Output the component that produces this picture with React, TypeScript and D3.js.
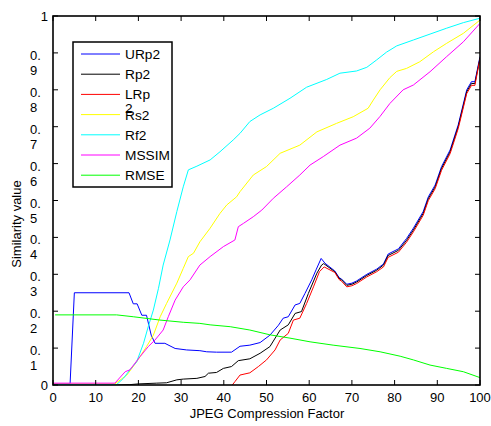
import React from "react";
import * as d3 from "d3";

const xTicks = [0, 10, 20, 30, 40, 50, 60, 70, 80, 90, 100];
const xTickLabels = ["0", "10", "20", "30", "40", "50", "60", "70", "80", "90", "100"];
const yTicks = [0, 0.1, 0.2, 0.3, 0.4, 0.5, 0.6, 0.7, 0.8, 0.9, 1];
const yTickLabels = ["0", "0.1", "0.2", "0.3", "0.4", "0.5", "0.6", "0.7", "0.8", "0.9", "1"];

const seriesNames = ["URp2", "Rp2", "LRp2", "Rs2", "Rf2", "MSSIM", "RMSE"];
const legendLines = [["URp2"], ["Rp2"], ["LRp", "2"], ["Rs2"], ["Rf2"], ["MSSIM"], ["RMSE"]];
const seriesColors = ["#0000ff", "#000000", "#ff0000", "#ffff00", "#00ffff", "#ff00ff", "#00ff00"];

const urp2: [number, number][] = [
  [0, 0.003], [4, 0.003], [5, 0.25], [17.8, 0.25], [18.8, 0.22], [19.7, 0.22], [20.8, 0.189], [21.9, 0.189],
  [23, 0.135], [23.9, 0.113], [26.2, 0.113], [28.6, 0.099], [31.3, 0.095], [34.4, 0.093], [36, 0.09],
  [38.3, 0.089], [41.8, 0.089], [43.8, 0.105], [46.1, 0.108], [48.5, 0.115], [50.8, 0.135], [52.8, 0.162],
  [53.9, 0.181], [55.1, 0.185], [56.7, 0.217], [57.8, 0.221], [59, 0.248], [60.6, 0.285], [61.6, 0.312],
  [62.8, 0.343], [63.7, 0.33], [66, 0.309], [67, 0.291], [67.6, 0.287], [68.8, 0.273], [70, 0.276],
  [71.1, 0.282], [73.5, 0.3], [75.8, 0.314], [77.4, 0.328], [78.5, 0.355], [80.9, 0.369], [82.8, 0.397],
  [84.4, 0.425], [86.7, 0.47], [87.9, 0.51], [89.5, 0.542], [91, 0.592], [93, 0.637], [94.9, 0.705],
  [96.9, 0.8], [98, 0.822], [98.8, 0.822], [100, 0.89],
];

const rp2: [number, number][] = [
  [0, 0], [15, 0], [18, 0.001], [20, 0.003], [24.3, 0.005], [26.6, 0.006], [29, 0.014], [30.5, 0.016],
  [33.7, 0.018], [35.6, 0.023], [36.4, 0.032], [38.3, 0.034], [39.9, 0.045], [41.8, 0.05], [43.4, 0.066],
  [46.1, 0.071], [48.5, 0.086], [50.8, 0.104], [53.2, 0.149], [55.1, 0.163], [56.7, 0.194], [58.2, 0.199],
  [59.8, 0.248], [61.8, 0.303], [62.9, 0.325], [63.4, 0.329], [66, 0.307], [67, 0.289], [67.6, 0.285],
  [68.8, 0.27], [70, 0.273], [71.1, 0.279], [73.5, 0.297], [75.8, 0.311], [77.4, 0.325], [78.5, 0.351],
  [80.9, 0.365], [82.8, 0.392], [84.4, 0.42], [86.7, 0.465], [87.9, 0.505], [89.5, 0.537], [91, 0.587],
  [93, 0.632], [94.9, 0.7], [96.9, 0.795], [98, 0.817], [98.8, 0.817], [100, 0.887],
];

const lrp2: [number, number][] = [
  [41.3, -0.01], [42.6, 0.009], [43.8, 0.027], [46.1, 0.033], [48.1, 0.05], [50, 0.068], [52, 0.095],
  [53.2, 0.122], [55.1, 0.14], [56.3, 0.176], [57.8, 0.181], [59.4, 0.221], [61, 0.266], [62.4, 0.307],
  [63.5, 0.32], [66, 0.305], [67, 0.286], [67.6, 0.281], [68.8, 0.266], [70, 0.269], [71.1, 0.275],
  [73.5, 0.293], [75.8, 0.307], [77.4, 0.32], [78.5, 0.346], [80.9, 0.36], [82.8, 0.387], [84.4, 0.415],
  [86.7, 0.46], [87.9, 0.5], [89.5, 0.532], [91, 0.582], [93, 0.627], [94.9, 0.695], [96.9, 0.79],
  [98, 0.812], [98.8, 0.812], [100, 0.884],
];

const rs2: [number, number][] = [
  [0, 0.003], [14.5, 0.003], [17.3, 0.027], [19.6, 0.063], [21.9, 0.104], [23.5, 0.135], [25.1, 0.185],
  [26.6, 0.221], [29, 0.276], [30.5, 0.316], [31.7, 0.348], [32.9, 0.357], [34.4, 0.388], [36.8, 0.425],
  [39.1, 0.465], [40.7, 0.488], [43, 0.51], [43.8, 0.524], [46.9, 0.569], [50, 0.592], [53.2, 0.628],
  [57.8, 0.65], [61.8, 0.686], [66.4, 0.709], [70.3, 0.727], [73.8, 0.75], [75, 0.772], [76.6, 0.8],
  [78.9, 0.833], [80.5, 0.85], [82.8, 0.858], [85.9, 0.876], [89.1, 0.903], [92.2, 0.926], [96.1, 0.953],
  [100, 0.989],
];

const rf2: [number, number][] = [
  [0, 0.001], [14.9, 0.001], [16.5, 0.018], [18, 0.041], [19.6, 0.063], [21.2, 0.113], [22.3, 0.158],
  [23.5, 0.203], [24.7, 0.262], [25.8, 0.325], [27.4, 0.393], [29, 0.47], [30.5, 0.537], [31.7, 0.583],
  [33.7, 0.593], [36.8, 0.61], [39.1, 0.632], [42.2, 0.664], [43.8, 0.682], [46.1, 0.714], [48.5, 0.732],
  [51.6, 0.75], [55.5, 0.777], [59.4, 0.807], [64.1, 0.828], [67.2, 0.845], [71.1, 0.851], [73.5, 0.861],
  [75.8, 0.881], [78.1, 0.902], [80.5, 0.919], [84.4, 0.935], [88.3, 0.951], [92.2, 0.967], [96.1, 0.982],
  [100, 0.994],
];

const mssim: [number, number][] = [
  [0, 0.005], [14.5, 0.005], [16.9, 0.036], [18, 0.041], [20.4, 0.077], [22.3, 0.104], [23.9, 0.122],
  [25.8, 0.149], [27, 0.185], [28.6, 0.23], [30.5, 0.266], [32.1, 0.285], [34.4, 0.325], [36.8, 0.348],
  [39.9, 0.375], [42.6, 0.393], [43.4, 0.429], [44.6, 0.438], [46.9, 0.456], [48.9, 0.474], [51.6, 0.506],
  [54.7, 0.537], [57.8, 0.569], [60.2, 0.596], [63.3, 0.619], [67.2, 0.65], [71.1, 0.669], [74.2, 0.696],
  [76.6, 0.728], [78.9, 0.763], [82, 0.8], [84.4, 0.813], [88.3, 0.849], [92.2, 0.89], [96.1, 0.93],
  [100, 0.98],
];

const rmse: [number, number][] = [
  [0.5, 0.19], [14.9, 0.19], [18.8, 0.185], [25, 0.176], [30.5, 0.17], [34.4, 0.167], [36.8, 0.163],
  [41.5, 0.158], [46.1, 0.149], [50.8, 0.136], [55.5, 0.127], [60.2, 0.117], [65.6, 0.108], [71.9, 0.099],
  [76.6, 0.09], [81.3, 0.078], [84.4, 0.068], [88.3, 0.054], [92.2, 0.045], [96.1, 0.036], [100, 0.02],
];

const seriesData = [urp2, rp2, lrp2, rs2, rf2, mssim, rmse];

const FONT = "'Liberation Sans', Arial, sans-serif";

export default function App() {
  const x = d3.scaleLinear().domain([0, 100]).range([53, 480]);
  const y = d3.scaleLinear().domain([0, 1]).range([385, 16]);
  const line = d3
    .line<[number, number]>()
    .x((d) => x(d[0]))
    .y((d) => y(d[1]));
  const [x0, x1] = x.range();
  const [y0, y1] = y.range();
  const tick = 5;

  return (
    <svg
      width={491}
      height={426}
      style={{ position: "absolute", left: 0, top: 0, background: "#fff" }}
      fontFamily={FONT}
    >
      <rect x={0} y={0} width={491} height={426} fill="#fff" />
      <defs>
        <clipPath id="plotclip">
          <rect x={x0} y={y1} width={x1 - x0} height={y0 - y1} />
        </clipPath>
      </defs>
      <g clipPath="url(#plotclip)">
        {seriesData.map((d, i) => (
          <path key={seriesNames[i]} d={line(d) || ""} fill="none" stroke={seriesColors[i]} strokeWidth={1} />
        ))}
      </g>
      {/* ticks */}
      {xTicks.map((t) => (
        <g key={"xt" + t}>
          <line x1={x(t)} x2={x(t)} y1={y0} y2={y0 - tick} stroke="#000" strokeWidth={1} />
          <line x1={x(t)} x2={x(t)} y1={y1} y2={y1 + tick} stroke="#000" strokeWidth={1} />
        </g>
      ))}
      {yTicks.map((t) => (
        <g key={"yt" + t}>
          <line x1={x0} x2={x0 + tick} y1={y(t)} y2={y(t)} stroke="#000" strokeWidth={1} />
          <line x1={x1} x2={x1 - tick} y1={y(t)} y2={y(t)} stroke="#000" strokeWidth={1} />
        </g>
      ))}
      <rect x={x0} y={y1} width={x1 - x0} height={y0 - y1} fill="none" stroke="#000" strokeWidth={1.6} />
      {/* x tick labels */}
      {xTicks.map((t, i) => (
        <text key={"xl" + t} x={x(t)} y={402} textAnchor="middle" fontSize={13} fill="#000">
          {xTickLabels[i]}
        </text>
      ))}
      {/* y tick labels */}
      {yTicks.map((t, i) => {
        const lab = yTickLabels[i];
        if (lab.length === 1) {
          return (
            <text key={"yl" + t} x={48} y={y(t) + 4.5} textAnchor="end" fontSize={13} fill="#000">
              {lab}
            </text>
          );
        }
        return (
          <text key={"yl" + t} x={30} y={y(t) + 7} textAnchor="start" fontSize={13} fill="#000">
            <tspan x={30}>{lab.slice(0, 2)}</tspan>
            <tspan x={30} dy={15}>{lab.slice(2)}</tspan>
          </text>
        );
      })}
      <text x={267} y={418} textAnchor="middle" fontSize={13} fill="#000">
        JPEG Compression Factor
      </text>
      <text transform="translate(21,224) rotate(-90)" textAnchor="middle" fontSize={13} fill="#000">
        Similarity value
      </text>
      {/* legend */}
      <rect x={73} y={42} width={99} height={145} fill="#fff" stroke="#000" strokeWidth={1.5} />
      {seriesNames.map((n, i) => {
        const ly = 54 + i * 20.2;
        const lines = legendLines[i];
        return (
          <g key={"lg" + n}>
            <line x1={81} x2={120} y1={ly} y2={ly} stroke={seriesColors[i]} strokeWidth={1} />
            <text x={125} y={ly + 5} fontSize={13.7} fill="#000">
              {lines.map((s, k) => (
                <tspan key={k} x={125} dy={k === 0 ? 0 : 14}>
                  {s}
                </tspan>
              ))}
            </text>
          </g>
        );
      })}
    </svg>
  );
}
